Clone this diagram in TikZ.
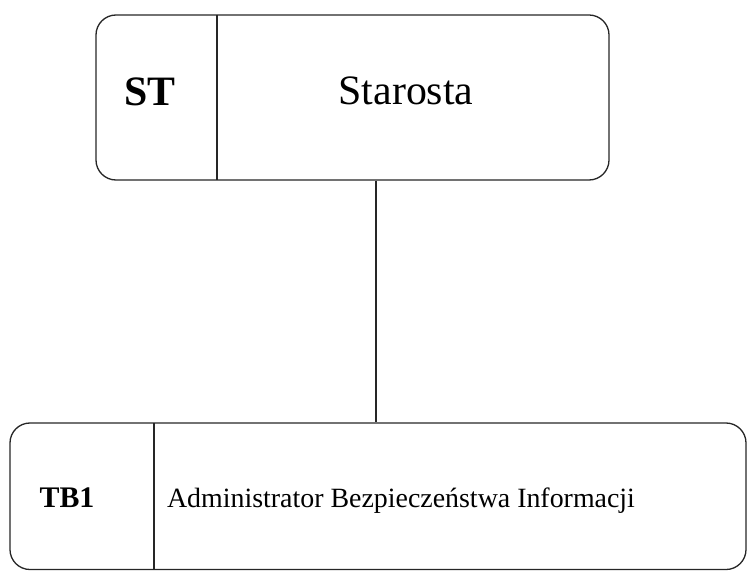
\documentclass[tikz,border=0pt]{standalone}
\usepackage{fontspec}
\setmainfont{Liberation Serif}
\usetikzlibrary{positioning}
\tikzset{
  unitbox/.style={draw=black!85,line width=1.3bp,rounded corners=20bp,inner sep=0pt},
  link/.style={draw=black!85,line width=1.3bp},
  codetxt/.style={anchor=base,font=\fontsize{#1}{#1}\selectfont\bfseries},
  nametxt/.style={anchor=base,font=\fontsize{#1}{#1}\selectfont},
}

\begin{document}
\begin{tikzpicture}[x=1bp,y=-1bp]
  \useasboundingbox (0,0) rectangle (747,571);
  % Starosta
  \node[unitbox,minimum width=513bp,minimum height=165bp] (st) at (352.5,97.5) {};
  \draw[link] (217,15)--(217,180);
  \node[codetxt=42] (stcode) at (150,106) {ST};
  \node[nametxt=42] (stname) at (406,105) {Starosta};
  % TB1
  \node[unitbox,minimum width=736bp,minimum height=146.5bp] (tb) at (378,496.25) {};
  \draw[link] (154,423)--(154,569.5);
  \node[codetxt=30] (tbcode) at (67,507) {TB1};
  \node[nametxt=28] (tbname) at (401,507) {Administrator Bezpieczeństwa Informacji};
  % link
  \coordinate (drop) at (376,0);
  \draw[link] (drop |- st.south)--(drop |- tb.north);
\end{tikzpicture}
\end{document}
